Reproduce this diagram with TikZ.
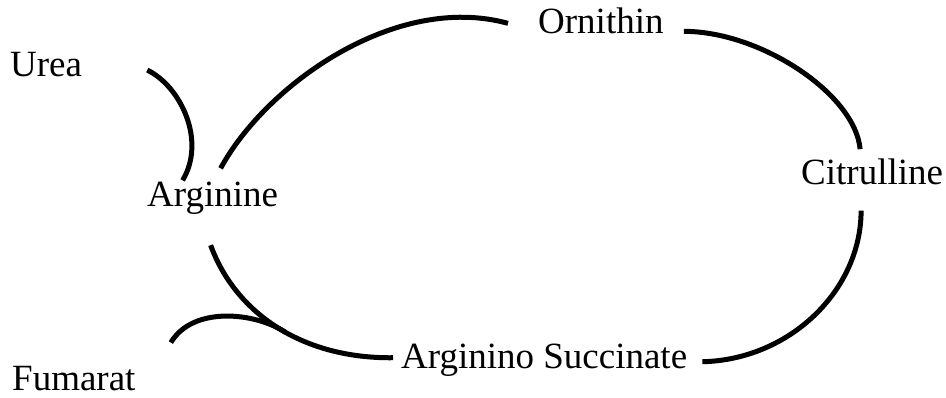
\documentclass[tikz,border=0pt]{standalone}
\usepackage{fontspec}
\setmainfont{Liberation Serif}
\usepackage{tikz}
\usetikzlibrary{calc}

\begin{document}
\begin{tikzpicture}[x=1pt, y=-1pt,
                    lbl/.style={inner sep=0pt, anchor=base west, font=\fontsize{37}{44}\selectfont},
                    link/.style={line width=5pt, black}]
  \useasboundingbox (0,0) rectangle (946,398);
  % compounds of the cycle
  \node[lbl] (urea)  at (10,77)   {Urea};
  \node[lbl] (orn)   at (538,34)  {Ornithin};
  \node[lbl] (arg)   at (147,207) {Arginine};
  \node[lbl] (cit)   at (801,185) {Citrulline};
  \node[lbl] (asucc) at (401,368) {Arginino Succinate};
  \node[lbl] (fum)   at (12,390)  {Fumarat};
  % cycle arcs
  \draw[link] ($(arg.north)+(8,-14)$) .. controls +(45,-83) and +(-113,-31) .. ($(orn.west)+(-30,2)$);
  \draw[link] ($(orn.east)+(20,10)$) .. controls +(77,0) and +(-5,-55) .. ($(cit.north)+(-12,-10)$);
  \draw[link] ($(cit.south)+(-11,25)$) .. controls +(0,80) and +(87,-2) .. ($(asucc.east)+(15,2)$);
  \draw[link] ($(asucc.west)+(-8,-2)$) .. controls +(-93,1) and +(24,66) .. coordinate[pos=0.45] (merge) ($(arg.south)+(-2,30)$);
  % side branches
  \draw[link] ($(urea.east)+(65,5)$) .. controls +(33,16) and +(24,-40) .. ($(arg.north)+(-30,-2)$);
  \draw[link] ($(fum.north)+(97,-23)$) .. controls +(22,-37) and +(-30,-20) .. (merge);
\end{tikzpicture}
\end{document}
